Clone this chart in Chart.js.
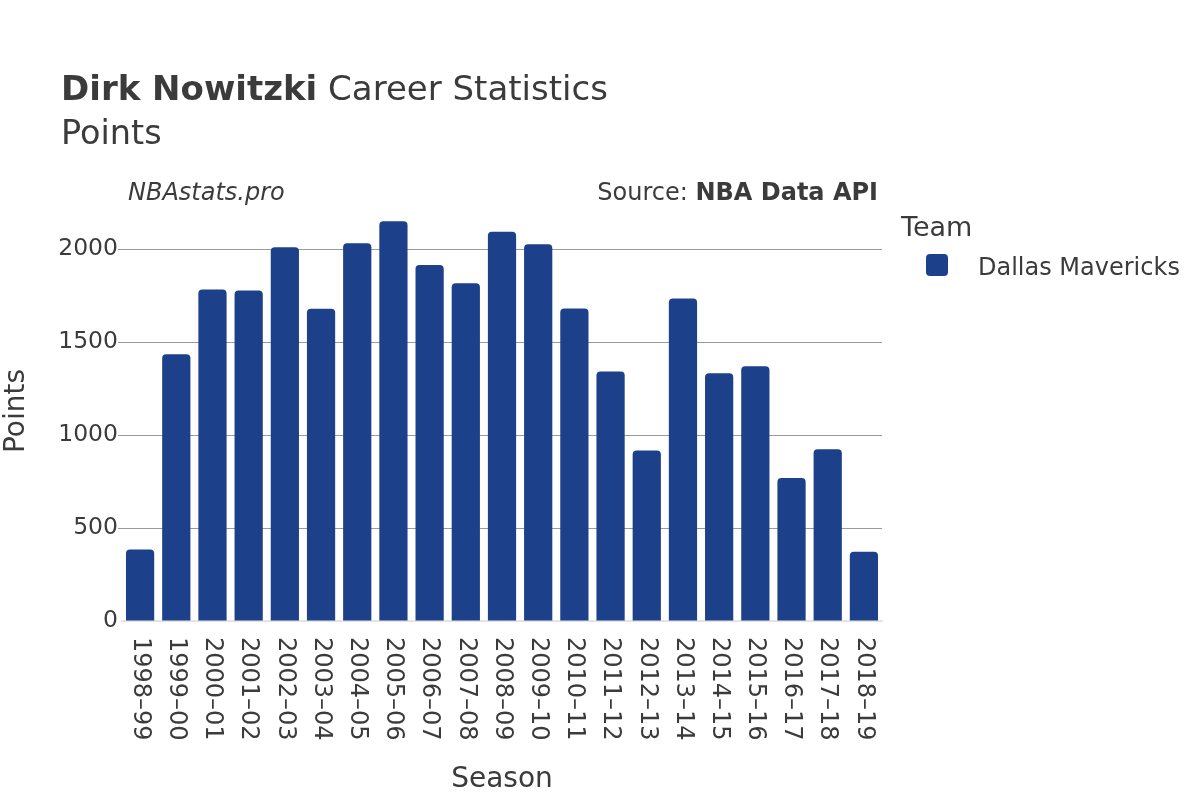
<!DOCTYPE html>
<html>
<head>
<meta charset="utf-8">
<script src="https://cdn.jsdelivr.net/npm/chart.js@4"></script>
<style>
  html, body { margin: 0; padding: 0; background: #fff; }
  #wrap { width: 1200px; height: 800px; }
</style>
</head>
<body>
<div id="wrap"><canvas id="chart" width="1200" height="800"></canvas></div>
<script>
const seasons = ['1998–99', '1999–00', '2000–01', '2001–02', '2002–03', '2003–04', '2004–05',
  '2005–06', '2006–07', '2007–08', '2008–09', '2009–10', '2010–11', '2011–12', '2012–13',
  '2013–14', '2014–15', '2015–16', '2016–17', '2017–18', '2018–19'];
const points = [385, 1435, 1784, 1779, 2011, 1680, 2032, 2151, 1916, 1817, 2094, 2027,
  1681, 1342, 917, 1735, 1333, 1371, 769, 924, 373];
const yTicks = [0, 500, 1000, 1500, 2000];
const team = 'Dallas Mavericks';

const FONT = '"DejaVu Sans", sans-serif';
const TEXT = '#3b3b3b';
const BAR = '#1c408a';

// titles, legend and rotated season labels drawn on top of the chart
const decorations = {
  id: 'decorations',
  afterDraw(chart) {
    const ctx = chart.ctx;
    const area = chart.chartArea;
    const xs = chart.scales.x;
    ctx.save();
    ctx.fillStyle = TEXT;
    ctx.textBaseline = 'alphabetic';
    ctx.textAlign = 'left';

    // title
    ctx.font = 'bold 34px ' + FONT;
    ctx.fillText('Dirk Nowitzki', 61, 100);
    let w = ctx.measureText('Dirk Nowitzki').width;
    ctx.font = '34px ' + FONT;
    ctx.fillText(' Career Statistics', 61 + w, 100);
    ctx.font = '33.5px ' + FONT;
    ctx.fillText('Points', 61, 144);

    // watermark + source
    ctx.font = 'italic 24px ' + FONT;
    ctx.fillText('NBAstats.pro', 128, 200);
    ctx.font = 'bold 24px ' + FONT;
    const bold = 'NBA Data API';
    const bw = ctx.measureText(bold).width;
    ctx.textAlign = 'right';
    ctx.fillText(bold, 878, 200);
    ctx.font = '24px ' + FONT;
    ctx.fillText('Source: ', 878 - bw, 200);

    // legend
    ctx.textAlign = 'left';
    ctx.font = '27px ' + FONT;
    ctx.fillText('Team', 901, 236);
    ctx.fillStyle = chart.data.datasets[0].backgroundColor;
    ctx.beginPath();
    ctx.roundRect(926, 254, 22, 22, 4);
    ctx.fill();
    ctx.fillStyle = TEXT;
    ctx.font = '24px ' + FONT;
    ctx.fillText(chart.data.datasets[0].label, 978, 275);

    // x tick labels, rotated clockwise
    ctx.font = '24px ' + FONT;
    ctx.textBaseline = 'middle';
    chart.data.labels.forEach((lab, i) => {
      ctx.save();
      ctx.translate(xs.getPixelForValue(i), area.bottom + 16);
      ctx.rotate(Math.PI / 2);
      ctx.fillText(lab, 0, 0);
      ctx.restore();
    });

    // axis titles
    ctx.textBaseline = 'alphabetic';
    ctx.textAlign = 'center';
    ctx.font = '28px ' + FONT;
    ctx.fillText('Season', (area.left + area.right) / 2, 787);
    ctx.save();
    ctx.translate(17, (area.top + area.bottom) / 2);
    ctx.rotate(-Math.PI / 2);
    ctx.textBaseline = 'middle';
    ctx.fillText('Points', 0, 0);
    ctx.restore();
    ctx.restore();
  }
};

new Chart(document.getElementById('chart'), {
  type: 'bar',
  data: {
    labels: seasons,
    datasets: [{
      label: team,
      data: points,
      backgroundColor: BAR,
      borderRadius: 4,
      barPercentage: 0.78,
      categoryPercentage: 1
    }]
  },
  options: {
    responsive: false,
    animation: false,
    devicePixelRatio: 1,
    layout: { padding: { left: 0, right: 318, top: 201, bottom: 0 } },
    plugins: {
      legend: { display: false },
      title: { display: false },
      tooltip: { enabled: false }
    },
    scales: {
      x: {
        grid: { display: false },
        border: { color: '#e4e4e4', width: 2 },
        ticks: { display: false },
        afterFit(scale) { scale.height = 179; }
      },
      y: {
        min: 0,
        max: 2260,
        afterBuildTicks(scale) { scale.ticks = yTicks.map(v => ({ value: v })); },
        afterFit(scale) { scale.width = 122; },
        border: { display: false },
        grid: {
          color: ctx => (ctx.tick && ctx.tick.value === 0 ? 'rgba(0,0,0,0)' : '#9a9a9a'),
          lineWidth: 1,
          tickLength: 4
        },
        ticks: {
          color: TEXT,
          font: { family: FONT, size: 23.5 },
          padding: 0,
          callback: v => String(v)
        }
      }
    }
  },
  plugins: [decorations]
});
</script>
</body>
</html>
